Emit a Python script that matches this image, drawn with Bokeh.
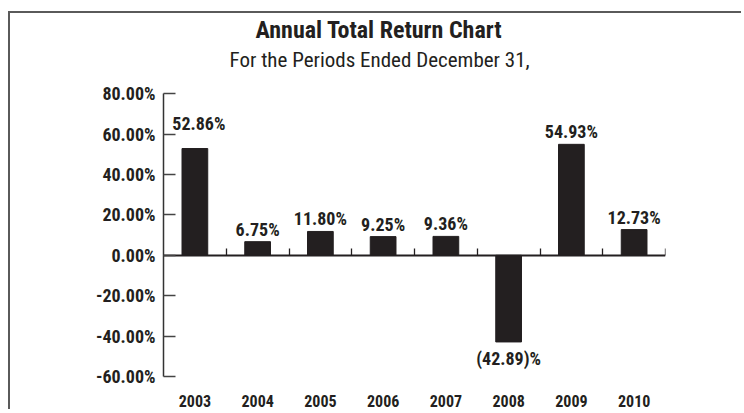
from bokeh.plotting import figure
from bokeh.models import (LinearAxis, FixedTicker, PrintfTickFormatter, Title,
                          ColumnDataSource, Range1d)
from bokeh.core.properties import value, field
from bokeh.embed import file_html
from bokeh.resources import INLINE

# ---- data ----
years = ["2003", "2004", "2005", "2006", "2007", "2008", "2009", "2010"]
returns = [52.86, 6.75, 11.80, 9.25, 9.36, -42.89, 54.93, 12.73]
y_ticks = [-60, -40, -20, 0, 20, 40, 60, 80]
title_text = "Annual Total Return Chart"
subtitle_text = "For the Periods Ended December 31,"

# ---- style ----
FONT = "'Roboto Condensed', 'DejaVu Sans Condensed', sans-serif"
INK = "#231f20"
Y_TOP_PAD = 10  # headroom above the top tick (in axis units) for the titles

labels = [f"{v:.2f}%" if v >= 0 else f"({abs(v):.2f})%" for v in returns]
baselines = ["bottom" if v >= 0 else "top" for v in returns]
# label nudges in screen pixels (first label sits above the 60% tick)
label_dx = [4, 0, 0, 0, 0, 0, 0, 0]
label_dy = [-15 if i == 0 else (-2 if v >= 0 else 6) for i, v in enumerate(returns)]

src = ColumnDataSource(dict(year=years, ret=returns, label=labels,
                            base=baselines, dx=label_dx, dy=label_dy))

p = figure(x_range=years, y_range=Range1d(y_ticks[0], y_ticks[-1] + Y_TOP_PAD),
           width=733, height=398, output_backend="svg", toolbar_location=None,
           min_border_left=153, min_border_right=78, min_border_top=59,
           min_border_bottom=35)
p.styles = {"margin-top": "11px", "margin-left": "8px",
            "border-left": "2px solid #5a5a5a", "border-top": "2px solid #5a5a5a"}
p.outline_line_color = None
p.xgrid.grid_line_color = None
p.ygrid.grid_line_color = None
p.background_fill_color = "white"
p.border_fill_color = "white"

p.vbar(x="year", top="ret", bottom=0, width=0.41, source=src,
       fill_color=INK, line_color=INK)

p.text(x="year", y="ret", text="label", source=src,
       text_align="center", text_baseline=field("base"),
       x_offset="dx", y_offset="dy",
       text_font=value(FONT), text_font_style="bold", text_font_size="18px",
       text_color=INK)

# bottom category labels
xa = p.xaxis[0]
xa.axis_line_color = None
xa.major_tick_line_color = None
xa.minor_tick_line_color = None
xa.major_label_standoff = 12
xa.major_label_text_font = FONT
xa.major_label_text_font_style = "bold"
xa.major_label_text_font_size = "16px"
xa.major_label_text_color = INK

# zero line with boundary ticks
zero_axis = LinearAxis(fixed_location=0,
                       ticker=FixedTicker(ticks=list(range(1, len(years) + 1))),
                       major_tick_in=7, major_tick_out=0,
                       major_label_text_font_size="1px", major_label_text_color=None,
                       major_label_standoff=0,
                       axis_line_color=INK, axis_line_width=1.8,
                       major_tick_line_color=INK, major_tick_line_width=1.3,
                       minor_tick_line_color=None)
p.add_layout(zero_axis, "below")

# y axis
ya = p.yaxis[0]
ya.bounds = (y_ticks[0], y_ticks[-1])
ya.ticker = FixedTicker(ticks=y_ticks)
ya.formatter = PrintfTickFormatter(format="%.2f%%")
ya.major_tick_in = 12
ya.major_tick_out = 0
ya.minor_tick_line_color = None
ya.axis_line_color = "#333333"
ya.axis_line_width = 1.5
ya.major_tick_line_color = "#444444"
ya.major_tick_line_width = 1.5
ya.major_label_standoff = 8
ya.major_label_text_font = FONT
ya.major_label_text_font_style = "bold"
ya.major_label_text_font_size = "18px"
ya.major_label_text_color = INK

p.add_layout(Title(text=subtitle_text, align="left", offset=66,
                   text_font=FONT, text_font_style="normal",
                   text_font_size="21px", text_color=INK, standoff=4), "above")
p.add_layout(Title(text=title_text, align="left", offset=92,
                   text_font=FONT, text_font_style="bold",
                   text_font_size="24px", text_color=INK, standoff=0), "above")

open("out.html", "w").write(file_html(p, INLINE))
